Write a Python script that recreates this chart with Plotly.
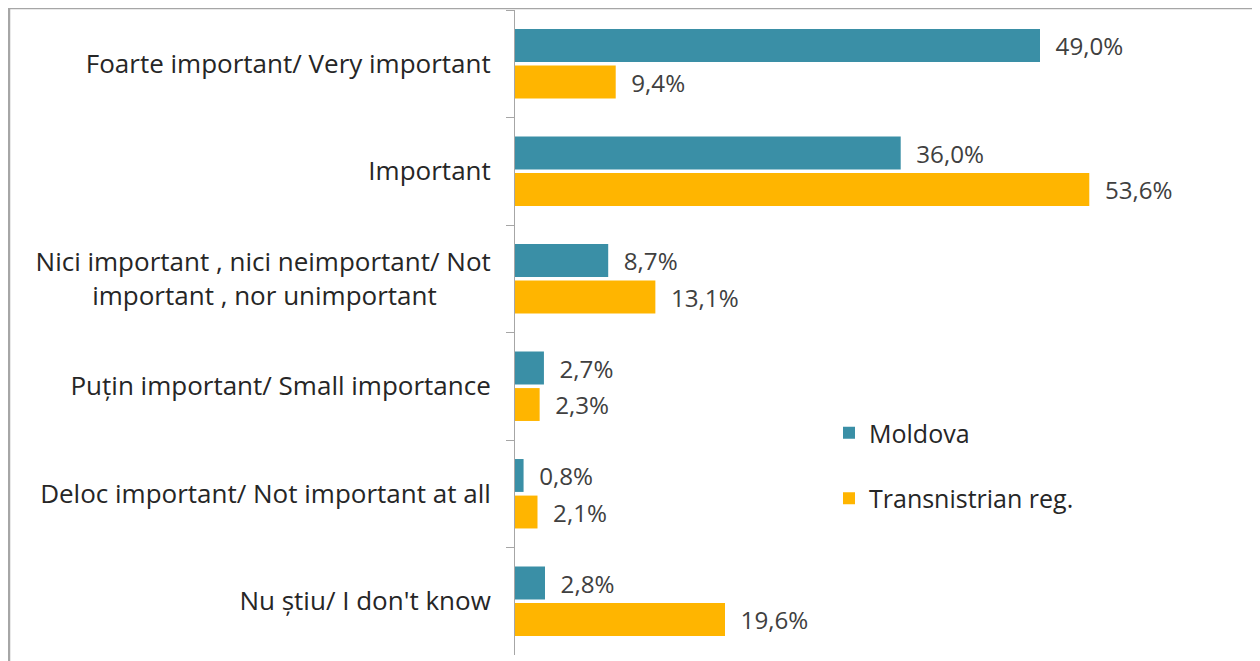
import plotly.graph_objects as go

categories = [
    "Foarte important/ Very important",
    "Important",
    "Nici important , nici neimportant/ Not\nimportant , nor unimportant",
    "Puțin important/ Small importance",
    "Deloc important/ Not important at all",
    "Nu știu/ I don't know",
]
moldova = [49.0, 36.0, 8.7, 2.7, 0.8, 2.8]
transnistria = [9.4, 53.6, 13.1, 2.3, 2.1, 19.6]

series_names = ["Moldova", "Transnistrian reg."]
colors = ["#3A8FA6", "#FFB500"]

# page body has an 8px margin: work in reference pixels, shifted by OFF
OFF = 8
W, H = 1260 - OFF, 661 - OFF
AX_L, AX_R, AX_T, AX_B = 515, 1252, 10, 655   # plot area in reference px
ML = AX_L - OFF
MR = W - (AX_R - OFF)
MT = AX_T - OFF
MB = H - (AX_B - OFF)
pw = AX_R - AX_L
ph = AX_B - AX_T


def display_label(s):
    # centre a two-line label by padding the shorter line (labels are right-anchored)
    lines = s.split("\n")
    if len(lines) == 1:
        return s
    longest = max(len(l) for l in lines)
    out = []
    for l in lines:
        pad = int(round((longest - len(l)) * 0.75))
        out.append(l + "\u00a0" * pad)
    return "<br>".join(out)


labels = [display_label(c) for c in categories]

fig = go.Figure()
for i, (name, vals, col) in enumerate(zip(series_names, [moldova, transnistria], colors)):
    fig.add_trace(go.Bar(
        y=labels, x=vals, name=name, orientation="h",
        marker=dict(color=col, line=dict(width=0)),
        texttemplate="\u00a0\u00a0%{x:.1f}%", textposition="outside",
        textfont=dict(family="Open Sans", size=25, color="#404040"),
        cliponaxis=False, legendgroup=f"g{i}",
    ))


def px_x(p):
    return (p - AX_L) / pw


def px_y(p):
    return (AX_B - p) / ph


x0, x1 = px_x(9), px_x(1256)
yt = px_y(8)
yb = px_y(700)
fig.add_shape(type="path", xref="paper", yref="paper",
              path=f"M {x0},{yb} L {x0},{yt} L {x1},{yt} L {x1},{yb}",
              line=dict(color="#A6A6A6", width=2.5))

fig.update_layout(
    width=W, height=H,
    margin=dict(l=ML, r=MR, t=MT, b=MB),
    paper_bgcolor="white", plot_bgcolor="white",
    barmode="group", bargap=0.32, bargroupgap=0.1,
    separators=",.",
    showlegend=True,
    legend=dict(x=px_x(829), y=px_y(410), xanchor="left", yanchor="top",
                font=dict(family="Open Sans", size=25, color="#262626"),
                tracegroupgap=30, bgcolor="rgba(0,0,0,0)"),
    xaxis=dict(range=[0, pw / (1040 - 515) * 49.0], visible=False),
    yaxis=dict(autorange="reversed", tickson="boundaries", ticks="outside",
               ticklen=8, tickcolor="#A6A6A6", showline=True, linecolor="#A6A6A6",
               linewidth=1, showgrid=False, ticklabelstandoff=18,
               tickfont=dict(family="Open Sans", size=26, color="#262626")),
)

fig.write_html("out.html")
